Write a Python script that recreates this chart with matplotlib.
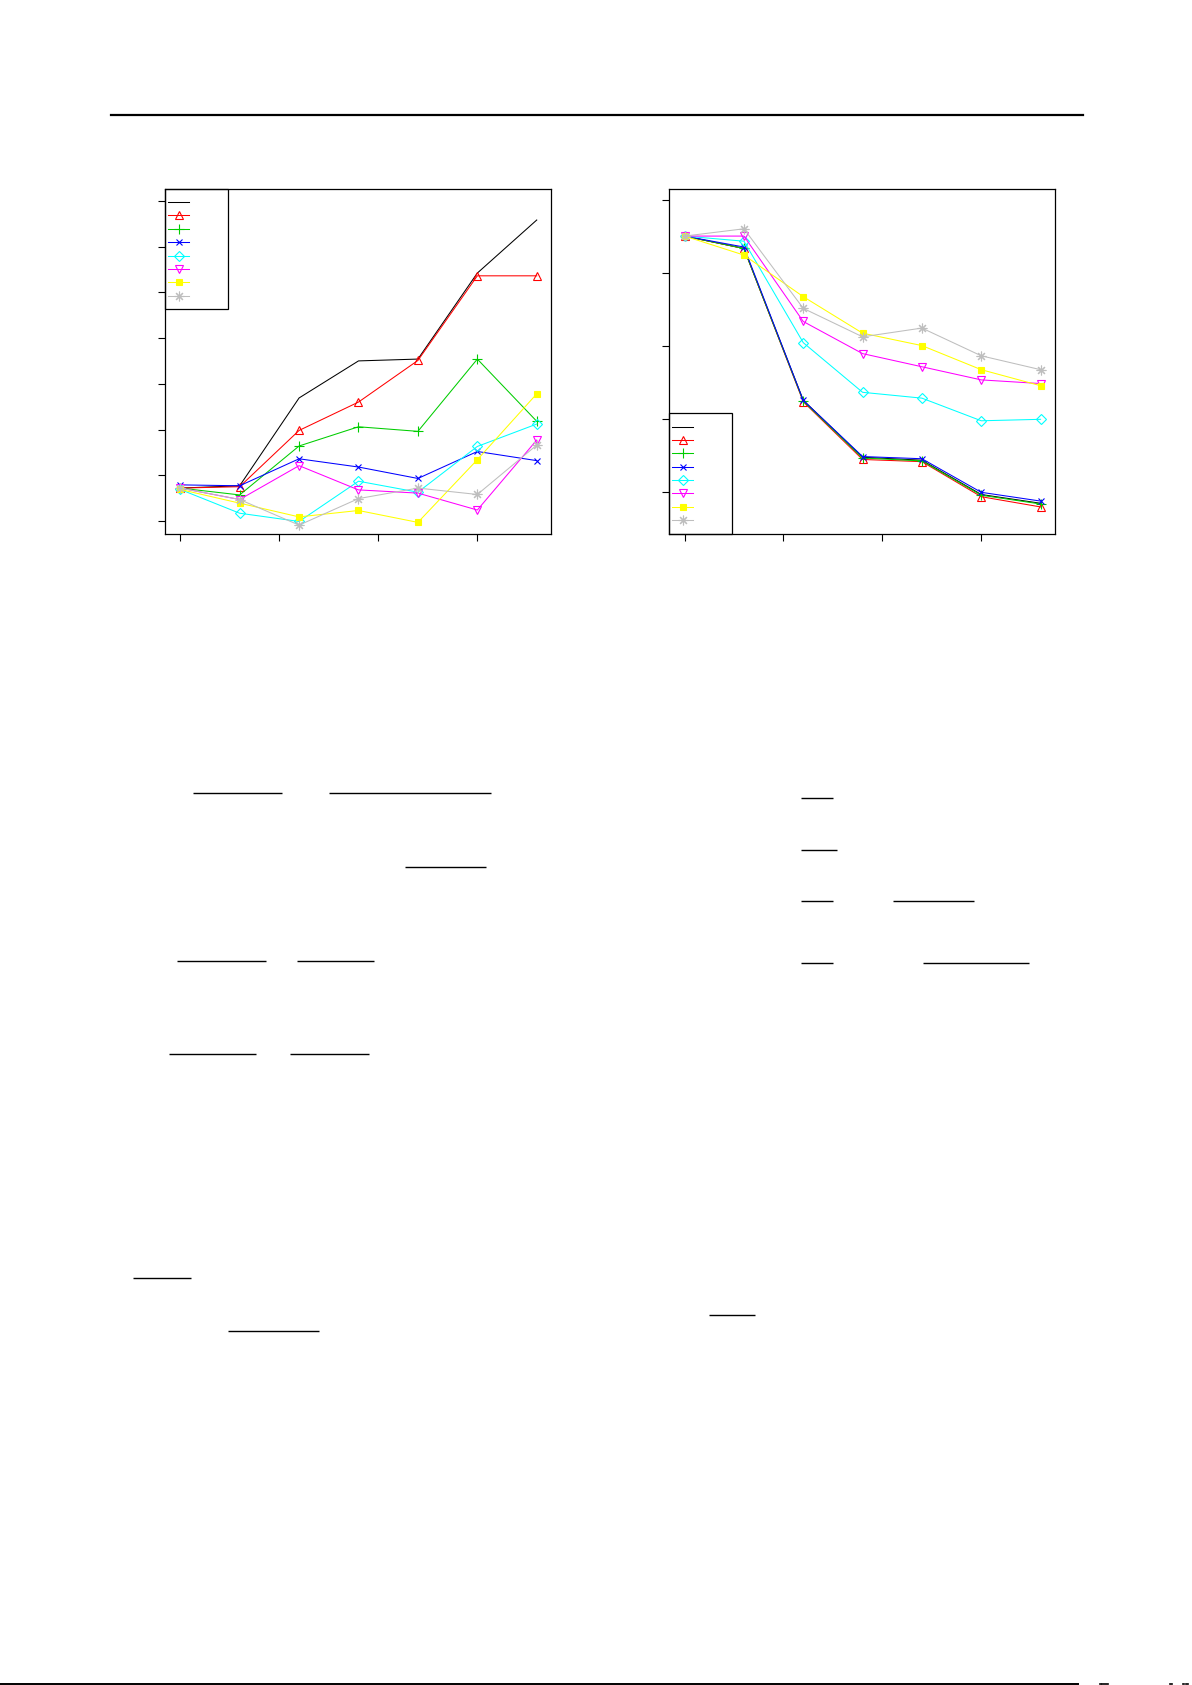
import matplotlib

matplotlib.use("Agg")
import matplotlib.pyplot as plt
from matplotlib.patches import Rectangle

W, H = 1192, 1685

# shared x grid for both panels
steps = [0, 3, 6, 9, 12, 15, 18]
xticks = [0, 5, 10, 15]

# left panel (values in tick units, ticks at 0..7)
left_black = [0.72, 0.77, 2.69, 3.50, 3.54, 5.42, 6.58]
left_red = [0.72, 0.75, 1.98, 2.60, 3.51, 5.36, 5.36]
left_green = [0.72, 0.57, 1.64, 2.06, 1.96, 3.54, 2.18]
left_blue = [0.79, 0.77, 1.36, 1.18, 0.93, 1.52, 1.32]
left_cyan = [0.69, 0.17, -0.01, 0.87, 0.63, 1.63, 2.12]
left_magenta = [0.72, 0.47, 1.21, 0.68, 0.61, 0.24, 1.77]
left_yellow = [0.69, 0.39, 0.09, 0.23, -0.03, 1.34, 2.78]
left_grey = [0.72, 0.47, -0.09, 0.49, 0.72, 0.58, 1.66]
left_yticks = [0, 1, 2, 3, 4, 5, 6, 7]

# right panel (ticks at 0..4)
right_black = [3.51, 3.34, 1.26, 0.48, 0.44, -0.03, -0.15]
right_red = [3.51, 3.34, 1.24, 0.45, 0.42, -0.06, -0.20]
right_green = [3.51, 3.34, 1.25, 0.47, 0.43, -0.04, -0.16]
right_blue = [3.51, 3.36, 1.26, 0.49, 0.46, 0.00, -0.12]
right_cyan = [3.51, 3.44, 2.05, 1.37, 1.29, 0.98, 1.00]
right_magenta = [3.51, 3.51, 2.34, 1.90, 1.72, 1.54, 1.49]
right_yellow = [3.51, 3.25, 2.68, 2.18, 2.01, 1.68, 1.46]
right_grey = [3.51, 3.61, 2.52, 2.13, 2.25, 1.87, 1.68]
right_yticks = [0, 1, 2, 3, 4]

# R default palette, one marker per series
STYLES = [
    dict(color="black", marker=None),
    dict(color="red", marker="^", mfc="none", ms=5.5),
    dict(color="#00CD00", marker="+", ms=7.5),
    dict(color="blue", marker="x", ms=5),
    dict(color="cyan", marker="D", mfc="none", ms=5),
    dict(color="magenta", marker="v", mfc="none", ms=5.5),
    dict(color="yellow", marker="s", ms=4.5),
    dict(color="#BEBEBE", marker=(8, 2, 0), ms=7),
]


def px_axes(fig, l, t, r, b):
    return fig.add_axes([l / W, 1 - b / H, (r - l) / W, (b - t) / H])


def panel(ax, series, yticks, xlim, ylim):
    for ys, st in zip(series, STYLES):
        ax.plot(steps, ys, lw=0.75, mew=0.8, **st)
    ax.set_xlim(*xlim)
    ax.set_ylim(*ylim)
    ax.set_xticks(xticks)
    ax.set_yticks(yticks)
    ax.set_xticklabels([])
    ax.set_yticklabels([])
    ax.tick_params(direction="out", length=5, width=0.8)
    for s in ax.spines.values():
        s.set_linewidth(0.9)


def legend_box(ov, x0, y0, x1, y1, rows):
    ov.add_patch(Rectangle((x0, y0), x1 - x0, y1 - y0, fill=False,
                           ec="black", lw=0.9))
    for y, st in zip(rows, STYLES):
        ov.plot([x0 + 3, x0 + 24], [y, y], lw=0.75, color=st["color"])
        if st["marker"] is not None:
            kw = {k: v for k, v in st.items() if k != "color"}
            ov.plot([x0 + 13.5], [y], lw=0, mew=0.8, color=st["color"], **kw)


fig = plt.figure(figsize=(W / 100, H / 100), dpi=100)

axL = px_axes(fig, 165, 189, 551, 534)
panel(axL, [left_black, left_red, left_green, left_blue, left_cyan,
            left_magenta, left_yellow, left_grey],
      left_yticks, (-0.77, 18.72), (-0.284, 7.258))

axR = px_axes(fig, 669, 189, 1055, 534)
panel(axR, [right_black, right_red, right_green, right_blue, right_cyan,
            right_magenta, right_yellow, right_grey],
      right_yticks, (-0.79, 18.73), (-0.571, 4.155))

# page overlay in pixel coordinates
ov = fig.add_axes([0, 0, 1, 1])
ov.set_xlim(0, W)
ov.set_ylim(H, 0)
ov.set_axis_off()
ov.patch.set_visible(False)

legend_box(ov, 165, 189, 228, 309,
           [202, 215.5, 229, 242.5, 256, 269, 282.5, 296])
legend_box(ov, 669, 413, 732, 534,
           [427, 440, 453.5, 467, 480.5, 493.5, 507, 520])

# header and footer rules
ov.plot([111, 1083], [115, 115], color="black", lw=1.6)
ov.plot([0, 1078], [1684, 1684], color="black", lw=1.4)
# clipped glyph tops at the bottom-right corner
for xa, xb in [(1100, 1101), (1102, 1108), (1170, 1172), (1183, 1184),
               (1186, 1188)]:
    ov.plot([xa, xb], [1684, 1684], color="black", lw=1.2)

# fraction bars left over from the page's equations
bars = [
    (193, 282, 793), (329, 491, 793),
    (405, 486, 867),
    (177, 266, 961), (297, 374, 961),
    (169, 256, 1054), (290, 369, 1054),
    (801, 833, 798), (801, 837, 850),
    (801, 833, 901), (893, 974, 901),
    (801, 833, 963), (923, 1029, 963),
    (133, 191, 1278), (709, 755, 1315), (228, 319, 1331),
]
for xa, xb, y in bars:
    ov.plot([xa, xb], [y, y], color="black", lw=1.0, solid_capstyle="butt")

fig.savefig("out.png", dpi=100)
